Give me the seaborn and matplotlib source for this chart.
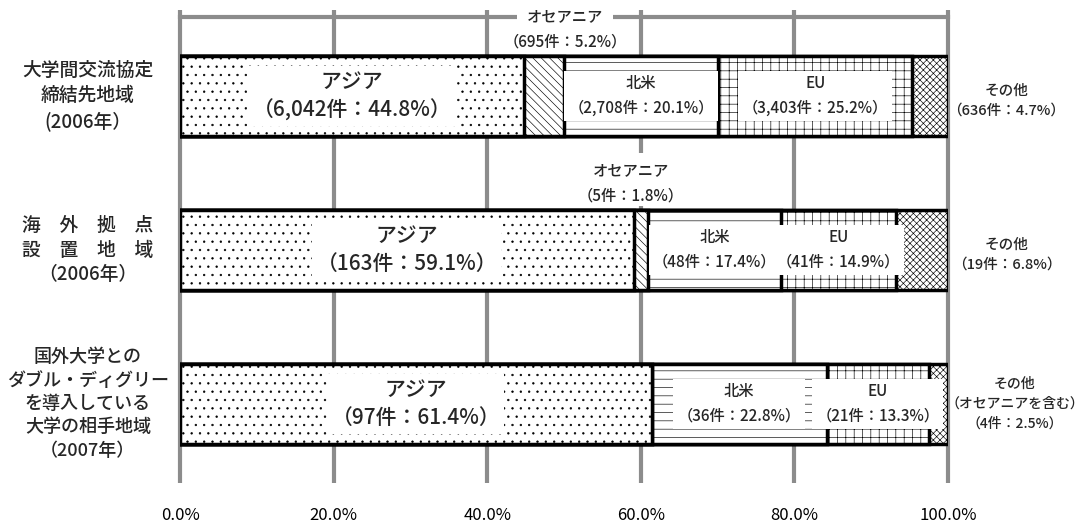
import matplotlib
matplotlib.use("Agg")
import matplotlib.pyplot as plt
import seaborn as sns
import pandas as pd

# ---- values ----
categories = [
    "大学間交流協定\n締結先地域\n(2006年）",
    "海　外　拠　点\n設　置　地　域\n（2006年）",
    "国外大学との\nダブル・ディグリー\nを導入している\n大学の相手地域\n（2007年）",
]
regions = ["アジア", "オセアニア", "北米", "EU", "その他"]
asia_pct = [44.8, 59.1, 61.4]
oceania_pct = [5.2, 1.8, 0.0]
namerica_pct = [20.1, 17.4, 22.8]
eu_pct = [25.2, 14.9, 13.3]
other_pct = [4.7, 6.8, 2.5]
asia_cnt = ["6,042", "163", "97"]
oceania_cnt = ["695", "5", ""]
namerica_cnt = ["2,708", "48", "36"]
eu_cnt = ["3,403", "41", "21"]
other_cnt = ["636", "19", "4"]
other_names = ["その他", "その他", "その他\n（オセアニアを含む）"]
xticks = [0, 20, 40, 60, 80, 100]

sns.set_theme(style="white")
plt.rcParams["font.family"] = ["Noto Sans CJK JP", "DejaVu Sans"]
plt.rcParams["hatch.linewidth"] = 0.45

pcts = {"アジア": asia_pct, "オセアニア": oceania_pct, "北米": namerica_pct,
        "EU": eu_pct, "その他": other_pct}
cnts = {"アジア": asia_cnt, "オセアニア": oceania_cnt, "北米": namerica_cnt,
        "EU": eu_cnt, "その他": other_cnt}
hatches = {"アジア": "..", "オセアニア": "\\\\\\\\", "北米": "--",
           "EU": "++", "その他": "xxxxx"}

rows = []
for i, cat in enumerate(categories):
    start = 0.0
    for reg in regions:
        p = pcts[reg][i]
        rows.append(dict(category=cat, region=reg, pct=p, start=start, end=start + p,
                         cnt=cnts[reg][i]))
        start += p
df = pd.DataFrame(rows)

fig, ax = plt.subplots(figsize=(10.91, 5.27), dpi=100)
ax.set_position([180 / 1091, 44 / 527, 768 / 1091, 466 / 527])

# gridlines behind the bars
ax.vlines(xticks, -0.56, 2.513, colors="#8c8c8c", lw=3, zorder=0.5, clip_on=False)

# stacked bars: draw cumulative totals, widest first
for reg in reversed(regions):
    sub = df[df["region"] == reg]
    sns.barplot(data=sub, x="end", y="category", order=categories, orient="h",
                color="white", saturation=1, edgecolor="black", linewidth=2.5,
                hatch=hatches[reg], width=0.52, ax=ax)

box = dict(facecolor="white", edgecolor="none", pad=3)
wt = "medium"
for i in range(len(categories)):
    d = df[df["category"] == categories[i]].set_index("region")
    r = d.loc["アジア"]
    ax.text((r.start + r.end) / 2, i, f"アジア\n（{r.cnt}件：{r.pct}%）", fontsize=15,
            ha="center", va="center", linespacing=1.4, bbox=box, zorder=4, weight=wt)
    for reg in ["北米", "EU"]:
        r = d.loc[reg]
        ax.text((r.start + r.end) / 2, i, f"{reg}\n（{r.cnt}件：{r.pct}%）", fontsize=11,
                ha="center", va="center", linespacing=1.55, bbox=box, zorder=4, weight=wt)
    r = d.loc["オセアニア"]
    if r.pct > 0:
        ox = [50.1, 58.7][i]
        ax.text(ox, i - 0.513, "オセアニア", fontsize=11, ha="center", va="center",
                bbox=dict(facecolor="white", edgecolor="none", pad=7), zorder=4, weight=wt)
        ax.text(ox, i - 0.35, f"（{r.cnt}件：{r.pct}%）", fontsize=11,
                ha="center", va="center", zorder=4, weight=wt,
                bbox=dict(facecolor="white", edgecolor="none", pad=1))
    r = d.loc["その他"]
    ax.text(107.6 if i < 2 else 108.7, i + (0.03 if i < 2 else 0),
            f"{other_names[i]}\n（{r.cnt}件：{r.pct}%）", fontsize=10.5 if i < 2 else 10,
            ha="center", va="center", linespacing=1.55, clip_on=False, weight=wt)
    # category label on the left
    ax.text(-12, i, categories[i], fontsize=13.5 if i < 2 else 13, ha="center",
            va="center", linespacing=1.38, clip_on=False, weight=wt)

ax.set_xlim(0, 100)
ax.set_ylim(2.513, -0.513)
ax.set_xticks(xticks)
ax.set_xticklabels([f"{v:.1f}%" for v in xticks])
ax.tick_params(axis="x", length=0, pad=17, labelsize=12, colors="black")
ax.set_yticks([])
ax.set_xlabel("")
ax.set_ylabel("")
for s in ["left", "right", "bottom"]:
    ax.spines[s].set_visible(False)
ax.spines["top"].set_color("#8c8c8c")
ax.spines["top"].set_linewidth(3)

fig.savefig("out.png", dpi=100)
